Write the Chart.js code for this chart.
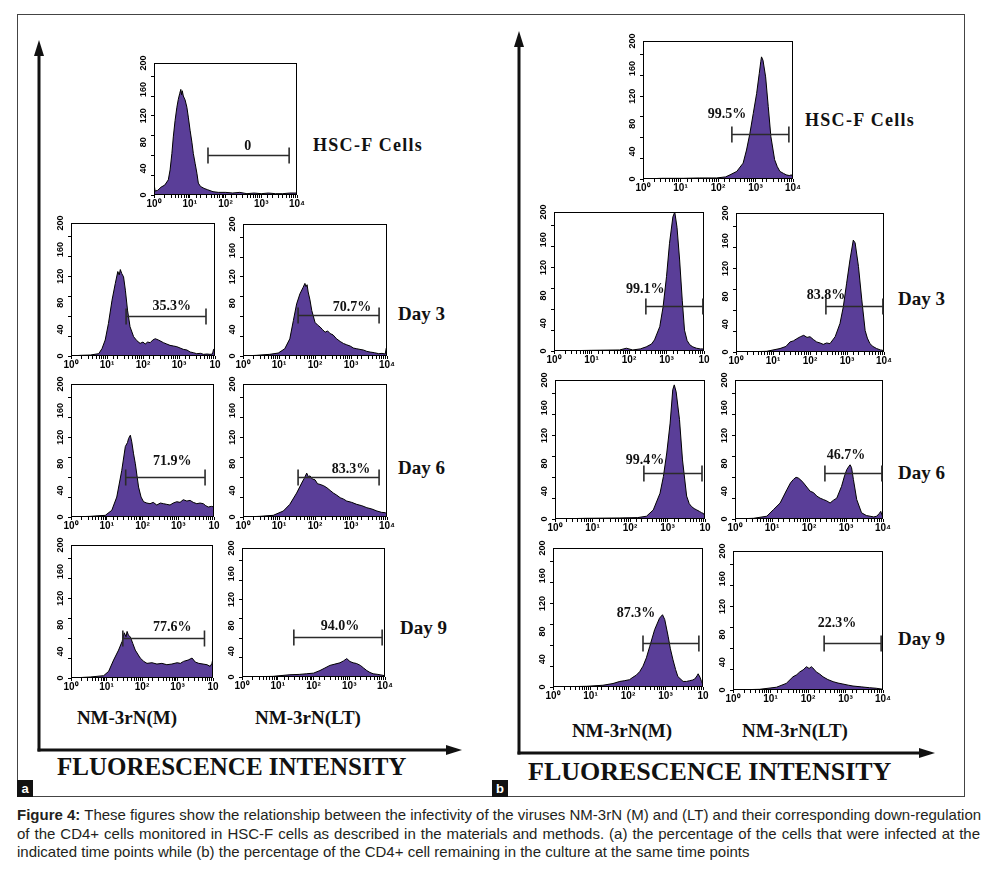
<!DOCTYPE html>
<html><head><meta charset="utf-8">
<script src="https://cdn.jsdelivr.net/npm/chart.js@4.4.1/dist/chart.umd.min.js"></script>
<style>
body{margin:0;background:#fff;width:987px;height:872px;position:relative;overflow:hidden;}
canvas{position:absolute;}
.t{position:absolute;font-family:"Liberation Serif","Times New Roman",serif;font-weight:bold;color:#111;white-space:nowrap;line-height:1;transform:translateY(-50%);}
.c{transform:translate(-50%,-50%);}
.cap{position:absolute;left:17px;font-family:"Liberation Sans",Arial,sans-serif;font-size:15px;color:#231f20;white-space:nowrap;line-height:1;}
.j{width:963px;text-align:justify;text-align-last:justify;}
.tag{position:absolute;width:16px;height:17px;background:#111;color:#fff;font:bold 13px "Liberation Sans",Arial,sans-serif;text-align:center;line-height:18px;}
</style></head><body>
<svg width="987" height="872" style="position:absolute;left:0;top:0">
  <rect x="17.5" y="14.5" width="947" height="782" fill="none" stroke="#444" stroke-width="1"/>
  <line x1="39" y1="52" x2="39" y2="751.5" stroke="#111" stroke-width="3"/>
  <polygon points="39,40 34,56 44,56" fill="#111"/>
  <line x1="37.5" y1="750" x2="450" y2="750" stroke="#111" stroke-width="3"/>
  <polygon points="462,750 446,745 446,755" fill="#111"/>
  <line x1="519" y1="44" x2="519" y2="754.5" stroke="#111" stroke-width="3"/>
  <polygon points="519,31 514,47 524,47" fill="#111"/>
  <line x1="517.5" y1="753" x2="922" y2="753" stroke="#111" stroke-width="3"/>
  <polygon points="935,753 919,748 919,758" fill="#111"/>
</svg>
<div class="tag" style="left:17px;top:780px">a</div>
<div class="tag" style="left:492px;top:780px">b</div>
<div id="texts"></div>
<div class="cap j" style="top:807px"><b>Figure 4:</b> These figures show the relationship between the infectivity of the viruses NM-3rN (M) and (LT) and their corresponding down-regulation</div>
<div class="cap j" style="top:825.5px">of the CD4+ cells monitored in HSC-F cells as described in the materials and methods. (a) the percentage of the cells that were infected at the</div>
<div class="cap" style="top:844px">indicated time points while (b) the percentage of the CD4+ cell remaining in the culture at the same time points</div>
<script>
// ---------- tick labels / categories ----------
const xTickLabelsFull = ['10\u2070','10\u00B9','10\u00B2','10\u00B3','10\u2074'];
const xTickLabelsCut  = ['10\u2070','10\u00B9','10\u00B2','10\u00B3','10'];
const yTickValues = [0,40,80,120,160,200];
const yTickLabels = ['0','40','80','120','160','200'];
const rowLabels = ['HSC-F Cells','Day 3','Day 6','Day 9'];
const columnLabels = ['NM-3rN(M)','NM-3rN(LT)'];
const axisTitle = 'FLUORESCENCE INTENSITY';

// ---------- histograms: x in decades (log10 fluorescence), y = counts ----------
// panel a
const aHscX = [0,0.03,0.1,0.2,0.3,0.4,0.45,0.5,0.54,0.59,0.64,0.68,0.72,0.75,0.77,0.79,0.82,0.87,0.92,0.96,1.01,1.06,1.1,1.15,1.2,1.24,1.3,1.4,1.5,1.65,1.8,2.0,2.2,2.4,2.6,2.8,3.0,3.2,3.4,3.6,3.8,4.0];
const aHscY = [18,6,7,12,15,23,38,63,88,113,133,145,154,160,152,158,150,144,133,118,98,80,63,48,33,18,13,10,8,5,4,4,3,4,2,3,2,3,2,2,3,3];
const aD3MX = [0,0.26,0.54,0.77,0.86,0.95,1.04,1.14,1.23,1.3,1.34,1.37,1.41,1.46,1.51,1.57,1.64,1.74,1.83,1.92,2.0,2.06,2.13,2.2,2.27,2.34,2.43,2.5,2.57,2.66,2.75,2.85,2.94,3.03,3.12,3.22,3.31,3.4,3.49,3.6,3.68,3.78,3.86,3.93,3.96,4.0];
const aD3MY = [0,1,1.5,3.5,11,24,49,84,109,127,122,130,124,119,99,69,44,29,23,19,21,18,21,20,24,26,24,22,20,18,16,15,14,12,10,9,6,5,3.5,4,2.5,3,2.5,3,10,12];
const aD3LX = [0,0.37,0.74,0.98,1.16,1.3,1.4,1.49,1.58,1.67,1.72,1.75,1.78,1.81,1.86,1.91,2.0,2.07,2.14,2.21,2.28,2.35,2.42,2.5,2.6,2.7,2.79,2.88,2.98,3.07,3.16,3.25,3.35,3.44,3.53,3.65,3.77,3.86,3.95,3.98,4.0];
const aD3LY = [0,1,2.5,4.5,11,26,54,79,94,104,110,105,108,97,85,69,51,47,44,40,36,38,34,32,26,22,19,17,15,12,11,10,9,7,6,5,3.5,4,3,12,14];
const aD6MX = [0,0.54,0.96,1.14,1.28,1.42,1.52,1.58,1.61,1.66,1.7,1.75,1.8,1.89,1.96,2.03,2.12,2.21,2.3,2.4,2.5,2.59,2.68,2.77,2.86,2.96,3.05,3.14,3.24,3.33,3.42,3.52,3.61,3.7,3.77,3.84,3.93,4.0];
const aD6MY = [0,1,2.5,10,30,70,106,112,118,123,113,95,80,45,30,23,21,20,22,18,21,20,19,18,21,23,22,26,24,25,22,20,21,20,17,15,16,15];
const aD6LX = [0,0.47,0.84,1.12,1.3,1.49,1.63,1.7,1.77,1.82,1.86,1.93,2.0,2.07,2.14,2.24,2.33,2.42,2.51,2.6,2.7,2.79,2.88,3.02,3.16,3.3,3.44,3.58,3.72,3.85,3.95,4.0];
const aD6LY = [0,1,2.5,9,19,36,51,58,66,60,62,57,56,50,49,47,44,40,36,33,29,27,24,22,19,17,14,12,9,7,6.5,5];
const aD9MX = [0,0.54,0.92,1.06,1.2,1.34,1.44,1.5,1.55,1.58,1.62,1.67,1.74,1.81,1.88,1.95,2.05,2.14,2.28,2.42,2.56,2.7,2.84,2.99,3.08,3.17,3.3,3.41,3.5,3.6,3.72,3.83,3.92,3.97,4.0];
const aD9MY = [0,1.5,3.5,10,27,42,55,68,62,70,64,62,52,42,36,30,25,22,23,21,22,20,21,23,22,25,27,30,24,22,21,20,17.5,22,30];
const aD9LX = [0,0.87,1.34,1.6,1.8,2.0,2.18,2.32,2.46,2.6,2.74,2.84,2.93,3.02,3.11,3.2,3.31,3.4,3.49,3.58,3.67,3.8,4.0];
const aD9LY = [0,1,3.5,4,5,6,10,14,18,20,22,25,28.5,24,22,21,18,14,10,7,5,4,2];
// panel b
const bHscX = [0,0.5,1.08,1.5,1.96,2.2,2.32,2.5,2.67,2.76,2.85,2.94,3.03,3.1,3.14,3.16,3.2,3.27,3.34,3.41,3.51,3.58,3.65,3.75,3.82,3.9,3.96,4.0];
const bHscY = [0,1,1,1.5,1.5,3,6,11,23,42,66,95,124,153,170,177,172,148,105,61.5,28,18,11,8,6,5,6,2];
const bD3MX = [0,1.0,1.75,1.93,2.1,2.3,2.46,2.6,2.68,2.82,2.91,3.0,3.08,3.17,3.22,3.28,3.35,3.42,3.48,3.55,3.62,3.7,3.8,3.9,3.97,4.0];
const bD3MY = [0,1,1.5,4,1.5,3,6,10,16,35,64,107,155,193,200,178,131,73,30,15,9,6,4,3,3,1];
const bD3LX = [0,0.83,1.19,1.35,1.46,1.55,1.64,1.74,1.83,1.92,2.0,2.09,2.18,2.27,2.36,2.45,2.54,2.68,2.81,2.9,2.99,3.08,3.17,3.22,3.31,3.4,3.49,3.55,3.62,3.7,3.8,3.9,4.0];
const bD3LY = [0,1,5,8,14.5,16,19,22,24,21,22,18,14.5,13,11,13,12,22,41,65,99,132.5,161,157,123,75,31,20,12,8,5,3,2];
const bD6MX = [0,0.8,1.73,2.2,2.44,2.62,2.8,2.89,2.98,3.07,3.14,3.18,3.23,3.32,3.4,3.51,3.58,3.64,3.71,3.78,3.85,3.91,3.96,4.0];
const bD6MY = [0,1,1.5,2,4,13,37,61,95,138,186,193,183,143,85,33,22,18,15,13,11,9,8,4];
const bD6LX = [0,0.5,0.86,1.04,1.22,1.4,1.5,1.58,1.65,1.71,1.78,1.85,1.94,2.03,2.12,2.21,2.3,2.39,2.48,2.57,2.66,2.75,2.88,2.96,3.02,3.08,3.11,3.15,3.2,3.29,3.42,3.55,3.65,3.75,3.83,3.9,3.94,3.97,4.0];
const bD6LY = [0,1,4,13.5,23,42,52,57,60,59,56,52,46,40,38,33,30,28,26,23,27,30,47,62,71,76,78,74,57,28,9,5,4,3,4,8,11,6,3];
const bD9MX = [0,0.89,1.33,1.6,1.78,1.9,2.04,2.13,2.22,2.31,2.4,2.49,2.58,2.71,2.84,2.92,2.98,3.07,3.13,3.2,3.27,3.33,3.47,3.56,3.64,3.72,3.78,3.84,3.87,3.92,3.96,4.0];
const bD9MY = [0,1,2.5,5,8,9,10.5,14,17,22,30,42,58.5,82.5,99,104,97,73,55,39,25,15,8,8,9,10,11.5,16,19,14,8,3];
const bD9LX = [0,0.71,1.16,1.42,1.6,1.7,1.78,1.87,1.96,2.03,2.09,2.16,2.22,2.31,2.4,2.53,2.67,2.8,2.93,3.07,3.2,3.42,3.64,3.82,4.0];
const bD9LY = [0,1,4,9.5,19,22,26,29,33.5,31,33.5,30,26,23,19,15,12,10,8.6,7,5.7,4.5,3.3,2.5,1];

// ---------- gates (marker bars): start/end in decades, level in counts ----------
const gateLabels = ['0','35.3%','70.7%','71.9%','83.3%','77.6%','94.0%','99.5%','99.1%','83.8%','99.4%','46.7%','87.3%','22.3%'];
const gateStart  = [1.51,1.53,1.53,1.53,1.53,1.46,1.45, 2.37,2.45,2.43,2.37,2.43,2.40,2.43];
const gateEnd    = [3.78,3.75,3.78,3.75,3.78,3.76,3.92, 3.89,3.97,3.97,3.92,3.97,3.89,3.95];
const gateLevel  = [60,60,62,60,60,60,62, 65,65,66,66,66,63,68];

// ---------- layout (positions / styles only) ----------
const YW = 20, PT = 10, PR = 10, XH = 16;
const panels = [
  {x:aHscX,y:aHscY,l:154,t:63,r:297,b:195,tl:'full',lx:2.62,ly:74},
  {x:aD3MX,y:aD3MY,l:71,t:223,r:215,b:356,tl:'cut',lx:2.8,ly:75},
  {x:aD3LX,y:aD3LY,l:243,t:224,r:387,b:356,tl:'full',lx:3.03,ly:73},
  {x:aD6MX,y:aD6MY,l:71,t:384,r:214,b:517,tl:'cut',lx:2.83,ly:83},
  {x:aD6LX,y:aD6LY,l:243,t:384,r:387,b:517,tl:'full',lx:3.0,ly:72},
  {x:aD9MX,y:aD9MY,l:71,t:545,r:213,b:678,tl:'cut',lx:2.85,ly:76},
  {x:aD9LX,y:aD9LY,l:242,t:548,r:385,b:677,tl:'full',lx:2.74,ly:78},
  {x:bHscX,y:bHscY,l:643,t:41,r:793,b:179,tl:'full',lx:2.24,ly:93},
  {x:bD3MX,y:bD3MY,l:554,t:212,r:704,b:351,tl:'cut',lx:2.43,ly:88},
  {x:bD3LX,y:bD3LY,l:736,t:213,r:884,b:352,tl:'full',lx:2.43,ly:82},
  {x:bD6MX,y:bD6MY,l:555,t:380,r:705,b:519,tl:'cut',lx:2.4,ly:85},
  {x:bD6LX,y:bD6LY,l:735,t:380,r:883,b:519,tl:'full',lx:3.0,ly:91},
  {x:bD9MX,y:bD9MY,l:553,t:548,r:703,b:687,tl:'cut',lx:2.21,ly:106},
  {x:bD9LX,y:bD9LY,l:733,t:551,r:883,b:690,tl:'full',lx:2.77,ly:96}
];

const FILL = '#5a3e98';
const serif = '"Liberation Serif","Times New Roman",serif';
const sans = '"Liberation Sans",Arial,sans-serif';

const decoPlugin = {
  id:'deco',
  afterDraw(chart){
    const {ctx, chartArea:a, scales:{x, y}} = chart;
    const i = chart.options.plugins.deco.idx;
    const p = panels[i];
    ctx.save();
    ctx.strokeStyle = '#000'; ctx.lineWidth = 1;
    ctx.strokeRect(a.left+0.5, a.top+0.5, a.right-a.left-1, a.bottom-a.top-1);
    // rotated y tick labels
    ctx.fillStyle = '#000';
    ctx.font = 'bold 9px ' + sans;
    ctx.textAlign = 'center'; ctx.textBaseline = 'middle';
    yTickValues.forEach((v, k) => {
      const py = y.getPixelForValue(v);
      ctx.save(); ctx.translate(a.left - 10, py); ctx.rotate(-Math.PI/2);
      ctx.fillText(yTickLabels[k], 0, 0); ctx.restore();
    });
    // gate bar
    const x1 = x.getPixelForValue(Math.pow(10, gateStart[i]));
    const x2 = x.getPixelForValue(Math.pow(10, gateEnd[i]));
    const gy = Math.round(y.getPixelForValue(gateLevel[i])) + 0.5;
    ctx.strokeStyle = '#2b2b2b'; ctx.lineWidth = 1.6;
    ctx.beginPath();
    ctx.moveTo(x1, gy); ctx.lineTo(x2, gy);
    ctx.moveTo(x1, gy-8); ctx.lineTo(x1, gy+8);
    ctx.moveTo(x2, gy-8); ctx.lineTo(x2, gy+8);
    ctx.stroke();
    // gate label
    ctx.fillStyle = '#111';
    ctx.font = 'bold 14px ' + serif;
    ctx.fillText(gateLabels[i], x.getPixelForValue(Math.pow(10, p.lx)), y.getPixelForValue(p.ly));
    ctx.restore();
  }
};

panels.forEach((p, i) => {
  const cv = document.createElement('canvas');
  const w = p.r - p.l + YW + PR, h = p.b - p.t + PT + XH;
  cv.width = w; cv.height = h;
  cv.style.left = (p.l - YW) + 'px'; cv.style.top = (p.t - PT) + 'px';
  cv.style.width = w + 'px'; cv.style.height = h + 'px';
  document.body.appendChild(cv);
  const labels = p.tl === 'full' ? xTickLabelsFull : xTickLabelsCut;
  new Chart(cv, {
    type:'line',
    data:{datasets:[{
      data: p.x.map((d, k) => ({x: Math.pow(10, d), y: p.y[k]})),
      fill:'origin', backgroundColor: FILL, borderColor:'#000', borderWidth:1,
      pointRadius:0, tension:0
    }]},
    options:{
      responsive:false, animation:false, devicePixelRatio:1,
      layout:{padding:{top:PT, right:PR, left:0, bottom:0}},
      plugins:{legend:{display:false}, tooltip:{enabled:false}, deco:{idx:i}},
      scales:{
        x:{type:'logarithmic', min:1, max:10000,
          afterFit(s){ s.height = XH; s.paddingLeft = 0; s.paddingRight = 0; },
          grid:{drawOnChartArea:false, drawTicks:true, tickLength:3, color:'#000', lineWidth:1},
          border:{display:false},
          ticks:{autoSkip:false, maxRotation:0, minRotation:0, padding:0, color:'#000',
            font:{family:sans, size:10, weight:'bold'},
            callback:(v) => { const e = Math.log10(v); const r = Math.round(e);
              return Math.abs(e - r) < 1e-6 ? labels[r] : ''; }}
        },
        y:{type:'linear', min:0, max:200,
          afterFit(s){ s.width = YW; s.paddingTop = 0; s.paddingBottom = 0; },
          grid:{drawOnChartArea:false, drawTicks:true, tickLength:3, color:'#000', lineWidth:1},
          border:{display:false},
          ticks:{stepSize:10, padding:0, callback:() => ''}
        }
      }
    },
    plugins:[decoPlugin]
  });
});

// ---------- text labels ----------
const T = document.getElementById('texts');
function addText(txt, left, cy, size, center, ls){
  const d = document.createElement('div');
  d.className = 't' + (center ? ' c' : '');
  d.textContent = txt;
  d.style.left = left + 'px'; d.style.top = cy + 'px';
  d.style.fontSize = size + 'px';
  if (ls) d.style.letterSpacing = ls + 'px';
  T.appendChild(d);
}
addText(rowLabels[0], 313, 145, 18, false, 1.3);
addText(rowLabels[1], 398, 313, 19);
addText(rowLabels[2], 398, 467, 19);
addText(rowLabels[3], 400, 627, 19);
addText(columnLabels[0], 127, 717, 19, true);
addText(columnLabels[1], 308, 717, 19, true);
addText(axisTitle, 57, 766, 25);
addText(rowLabels[0], 805, 120, 18, false, 1.3);
addText(rowLabels[1], 898, 298, 19);
addText(rowLabels[2], 898, 472, 19);
addText(rowLabels[3], 898, 638, 19);
addText(columnLabels[0], 622, 730, 19, true);
addText(columnLabels[1], 795, 730, 19, true);
addText(axisTitle, 528, 772, 26);
</script>
</body></html>
